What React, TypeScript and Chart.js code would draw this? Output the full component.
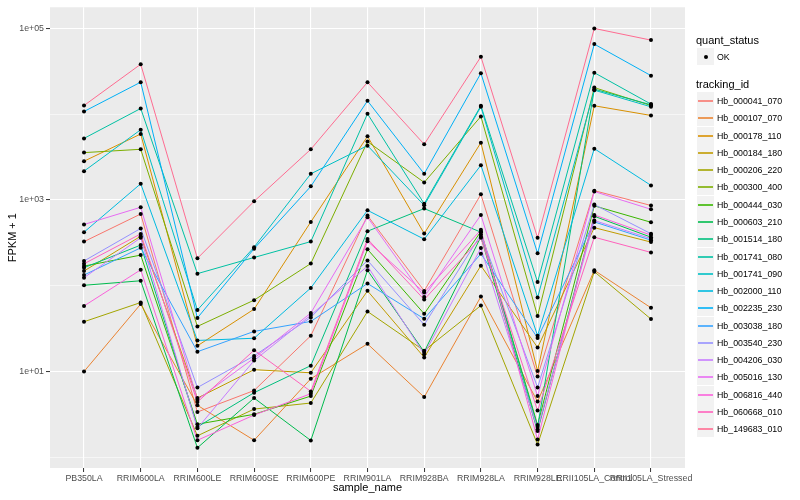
import React, { useEffect, useRef } from "react";
import { Chart, registerables } from "chart.js";

Chart.register(...registerables);

// ---------- data ----------
const categories = [
  "PB350LA",
  "RRIM600LA",
  "RRIM600LE",
  "RRIM600SE",
  "RRIM600PE",
  "RRIM901LA",
  "RRIM928BA",
  "RRIM928LA",
  "RRIM928LE",
  "RRII105LA_Control",
  "RRII105LA_Stressed",
];

const trackingIds = [
  "Hb_000041_070",
  "Hb_000107_070",
  "Hb_000178_110",
  "Hb_000184_180",
  "Hb_000206_220",
  "Hb_000300_400",
  "Hb_000444_030",
  "Hb_000603_210",
  "Hb_001514_180",
  "Hb_001741_080",
  "Hb_001741_090",
  "Hb_002000_110",
  "Hb_002235_230",
  "Hb_003038_180",
  "Hb_003540_230",
  "Hb_004206_030",
  "Hb_005016_130",
  "Hb_006816_440",
  "Hb_060668_010",
  "Hb_149683_010",
];

const seriesColors = [
  "#F8766D", "#EA8331", "#D89000", "#C09B00", "#A3A500",
  "#7CAE00", "#39B600", "#00BB4E", "#00BF7D", "#00C1A3",
  "#00BFC4", "#00BAE0", "#00B0F6", "#35A2FF", "#9590FF",
  "#C77CFF", "#E76BF3", "#FA62DB", "#FF62BC", "#FF6C91",
];

// FPKM + 1 per sample (same order as categories)
const hb000041_070 = [326, 684, 3.37, 6.0, 26.1, 656, 86.9, 1158, 8.75, 1279, 859];
const hb000107_070 = [10, 61, 4.04, 1.58, 8.23, 21, 5.03, 74.6, 4.46, 151, 55.2];
const hb000178_110 = [2820, 5850, 19.9, 53.3, 553, 5490, 405, 4640, 10.1, 12470, 9620];
const hb000184_180 = [148, 377, 4.9, 10.5, 9.66, 87, 14.6, 171, 19, 474, 322];
const hb000206_220 = [38, 63.6, 1.78, 3.65, 4.29, 50, 17.5, 58.7, 1.41, 145.5, 40.8];
const hb000300_400 = [3550, 3880, 33.5, 67.8, 181, 4770, 1596, 9370, 44.2, 20300, 12560];
const hb000444_030 = [169, 227, 2.43, 3.17, 5.17, 265, 47, 428, 2.38, 851, 548];
const hb000603_210 = [101, 114, 1.29, 4.9, 1.57, 151, 16.9, 371, 2.02, 644, 367];
const hb001514_180 = [162, 297, 2.26, 5.66, 11.7, 431, 791, 420, 2.26, 19470, 12800];
const hb001741_080 = [5200, 11600, 138, 213, 326, 10070, 899, 12470, 110, 30300, 13040];
const hb001741_090 = [2160, 6560, 52, 281, 2010, 4280, 863, 12140, 72.6, 18960, 12130];
const hb002000_110 = [420, 1540, 23, 24.4, 94, 755, 348, 2530, 26.1, 3950, 1473];
const hb002235_230 = [10700, 23500, 42, 270, 1435, 14250, 2010, 29900, 238, 65200, 28000];
const hb003038_180 = [133, 276, 17, 29.3, 38.3, 106, 41.1, 235, 24.6, 553, 339];
const hb003540_230 = [194, 464, 6.5, 15.2, 42.7, 197, 35, 395, 6.52, 880, 403];
const hb004206_030 = [124, 361, 2.18, 13.4, 45.4, 169, 15.9, 274, 2.13, 574, 353];
const hb005016_130 = [516, 819, 4.7, 14.3, 48, 627, 74, 667, 5.17, 1250, 776];
const hb006816_440 = [58, 153, 1.58, 3.11, 5.51, 330, 83, 447, 1.61, 667, 388];
const hb060668_010 = [180, 401, 4.4, 17.7, 5.86, 349, 68.9, 361, 3.5, 367, 244];
const hb149683_010 = [12560, 38000, 208, 961, 3880, 23450, 4440, 46500, 361, 99300, 72600];

const seriesValues = [
  hb000041_070, hb000107_070, hb000178_110, hb000184_180, hb000206_220,
  hb000300_400, hb000444_030, hb000603_210, hb001514_180, hb001741_080,
  hb001741_090, hb002000_110, hb002235_230, hb003038_180, hb003540_230,
  hb004206_030, hb005016_130, hb006816_440, hb060668_010, hb149683_010,
];

const yMajorTicks = [10, 1000, 100000];
const yMajorLabels = ["1e+01", "1e+03", "1e+05"];
const yMinorTicks = [1, 100, 10000];

const quantStatusLevels = ["OK"];

// ---------- styling ----------
const FONT = "'Liberation Sans', Arial, Helvetica, sans-serif";
const PANEL = { left: 50, top: 5, right: 685, bottom: 468 };
const KEY = 17.28;

const panelBg = {
  id: "panelBg",
  beforeDraw(chart: any) {
    const { ctx, chartArea: a } = chart;
    ctx.save();
    ctx.fillStyle = "#EBEBEB";
    ctx.fillRect(a.left, a.top, a.right - a.left, a.bottom - a.top);
    ctx.restore();
  },
};

export default function App() {
  const canvasRef = useRef<HTMLCanvasElement | null>(null);

  useEffect(() => {
    if (!canvasRef.current) return;
    const lineSets = seriesValues.map((vals, i) => ({
      label: trackingIds[i],
      data: vals.map((v, j) => ({ x: j, y: v })),
      borderColor: seriesColors[i],
      backgroundColor: seriesColors[i],
      borderWidth: 1,
      pointRadius: 0,
      tension: 0,
      order: 20 - i,
    }));
    const pointSet = {
      label: "points",
      data: seriesValues.flatMap((vals) => vals.map((v, j) => ({ x: j, y: v }))),
      showLine: false,
      pointRadius: 2,
      pointBackgroundColor: "#000000",
      pointBorderWidth: 0,
      borderColor: "#000000",
      order: 0,
    };

    const chart = new Chart(canvasRef.current, {
      type: "line",
      data: { datasets: [...lineSets, pointSet] as any },
      options: {
        animation: false,
        responsive: false,
        events: [],
        layout: {
          padding: { top: PANEL.top, right: 800 - PANEL.right, left: 0, bottom: 0 },
        },
        plugins: { legend: { display: false }, tooltip: { enabled: false } },
        scales: {
          x: {
            type: "linear",
            min: -0.6,
            max: 10.6,
            bounds: "data",
            afterBuildTicks: (scale: any) => {
              scale.ticks = categories.map((_, i) => ({ value: i }));
            },
            afterFit: (scale: any) => {
              scale.height = 500 - PANEL.bottom;
            },
            ticks: {
              autoSkip: false,
              maxRotation: 0,
              minRotation: 0,
              padding: 1,
              color: "#4D4D4D",
              font: { family: FONT, size: 8.8 },
              callback: (v: any) => categories[v as number] ?? "",
            },
            grid: {
              color: "#FFFFFF",
              lineWidth: 1.1,
              drawTicks: true,
              tickLength: 4,
              tickColor: "#333333",
              tickWidth: 1,
            },
            border: { display: false },
            title: {
              display: true,
              text: "sample_name",
              color: "#000000",
              font: { family: FONT, size: 11 },
              padding: { top: 0, bottom: 5 },
            },
          },
          y: {
            type: "logarithmic",
            min: 0.7507,
            max: 175200,
            afterBuildTicks: (scale: any) => {
              scale.ticks = [...yMinorTicks, ...yMajorTicks]
                .sort((a, b) => a - b)
                .map((v) => ({ value: v, major: yMajorTicks.includes(v) }));
            },
            afterFit: (scale: any) => {
              scale.width = PANEL.left;
            },
            ticks: {
              autoSkip: false,
              padding: 2,
              color: "#4D4D4D",
              font: { family: FONT, size: 8.8 },
              callback: (v: any) => {
                const k = yMajorTicks.indexOf(v as number);
                return k >= 0 ? yMajorLabels[k] : "";
              },
            },
            grid: {
              color: "#FFFFFF",
              lineWidth: (c: any) => (yMajorTicks.includes(c.tick?.value) ? 1.1 : 0.55),
              drawTicks: true,
              tickLength: 4,
              tickColor: (c: any) =>
                yMajorTicks.includes(c.tick?.value) ? "#333333" : "rgba(0,0,0,0)",
              tickWidth: 1,
            },
            border: { display: false },
            title: {
              display: true,
              text: "FPKM + 1",
              color: "#000000",
              font: { family: FONT, size: 11 },
              padding: { top: 6, bottom: 0 },
            },
          },
        },
      } as any,
      plugins: [panelBg],
    });
    return () => chart.destroy();
  }, []);

  const textStyle: React.CSSProperties = {
    position: "absolute",
    fontFamily: FONT,
    whiteSpace: "nowrap",
    color: "#000000",
  };

  const keysTop = 92;

  return (
    <div style={{ position: "absolute", left: 0, top: 0, width: 800, height: 500, background: "#FFFFFF" }}>
      <canvas ref={canvasRef} width={800} height={500} style={{ position: "absolute", left: 0, top: 0 }} />
      {/* quant_status legend */}
      <div style={{ ...textStyle, left: 696, top: 34, fontSize: 11, lineHeight: "13px" }}>quant_status</div>
      {quantStatusLevels.map((lvl, i) => (
        <React.Fragment key={lvl}>
          <div
            style={{
              position: "absolute",
              left: 697,
              top: 48 + i * 17,
              width: 17,
              height: 17,
              background: "#F2F2F2",
            }}
          >
            <div
              style={{
                position: "absolute",
                left: 6.5,
                top: 6.5,
                width: 4,
                height: 4,
                borderRadius: 2,
                background: "#000000",
              }}
            />
          </div>
          <div style={{ ...textStyle, left: 717, top: 48 + i * 17 + 2.5, fontSize: 8.8, lineHeight: "12px" }}>
            {lvl}
          </div>
        </React.Fragment>
      ))}
      {/* tracking_id legend */}
      <div style={{ ...textStyle, left: 696, top: 77.5, fontSize: 11, lineHeight: "13px" }}>tracking_id</div>
      {trackingIds.map((id, i) => {
        const top = Math.round(keysTop + i * KEY);
        return (
          <React.Fragment key={id}>
            <div
              style={{
                position: "absolute",
                left: 697,
                top,
                width: 17,
                height: 17,
                background: "#F2F2F2",
              }}
            >
              <div
                style={{
                  position: "absolute",
                  left: 1,
                  top: 8,
                  width: 15,
                  height: 2,
                  background: seriesColors[i],
                  opacity: 0.8,
                }}
              />
            </div>
            <div style={{ ...textStyle, left: 717, top: top + 2.5, fontSize: 8.8, lineHeight: "12px" }}>
              {id}
            </div>
          </React.Fragment>
        );
      })}
    </div>
  );
}
